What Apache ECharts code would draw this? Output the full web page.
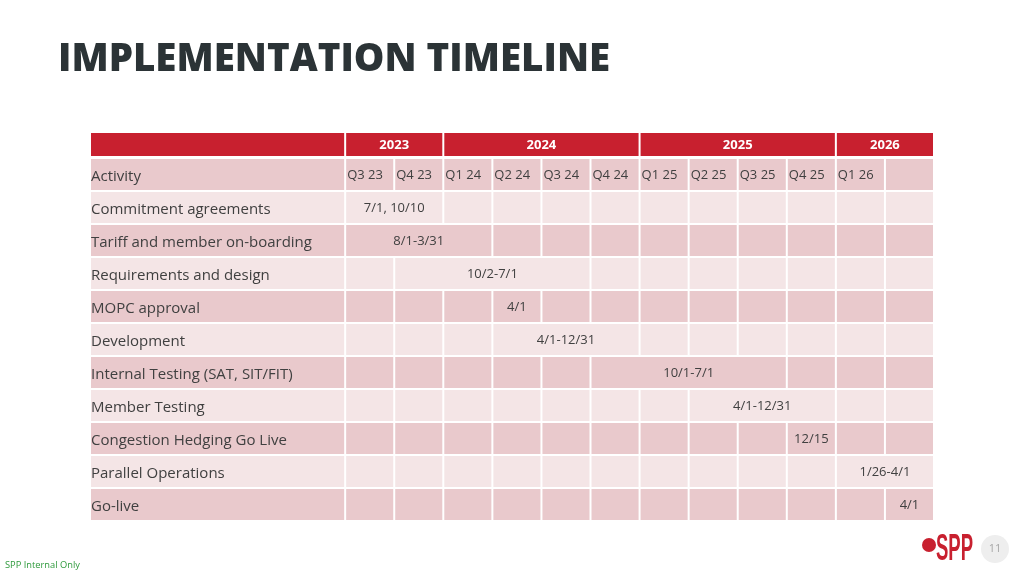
<!DOCTYPE html>
<html>
<head>
<meta charset="utf-8">
<script src="https://cdn.jsdelivr.net/npm/echarts@6/dist/echarts.min.js"></script>
<style>
    html, body { margin: 0; padding: 0; background: #ffffff; }
    #chart { width: 1024px; height: 576px; }
</style>
</head>
<body>
<div id="chart"></div>
<script>
// datos de la tabla
var quarters = ['Q3 23', 'Q4 23', 'Q1 24', 'Q2 24', 'Q3 24', 'Q4 24', 'Q1 25', 'Q2 25', 'Q3 25', 'Q4 25', 'Q1 26', ''];
var years = ['2023', '2024', '2025', '2026'];
var yearStart = [0, 2, 6, 10];
var yearEnd = [2, 6, 10, 12];

var activities = ['Commitment agreements', 'Tariff and member on-boarding', 'Requirements and design', 'MOPC approval',
    'Development', 'Internal Testing (SAT, SIT/FIT)', 'Member Testing', 'Congestion Hedging Go Live',
    'Parallel Operations', 'Go-live'];
// indice de trimestre donde empieza y termina (exclusivo) cada actividad
var spanStart = [0, 0, 1, 3, 3, 5, 7, 9, 10, 11];
var spanEnd = [2, 3, 5, 4, 6, 9, 10, 10, 12, 12];
var spanLabel = ['7/1, 10/10', '8/1-3/31', '10/2-7/1', '4/1', '4/1-12/31', '10/1-7/1', '4/1-12/31', '12/15', '1/26-4/1', '4/1'];

var LABEL_COL = 5.2; // ancho de la columna Activity en trimestres
var RED = '#c8202f';
var DARK = '#e9c9cc';
var LIGHT = '#f4e5e6';
var TEXT = '#404040';

var rows = ['Activity'].concat(activities);

// celdas del encabezado de años
var headData = [[-LABEL_COL, 0, 0]];
var headMeta = [{ text: '' }];
years.forEach(function (y, i) {
    headData.push([yearStart[i], yearEnd[i], 0]);
    headMeta.push({ text: y });
});

// celdas del cuerpo
var bodyData = [];
var bodyMeta = [];
rows.forEach(function (name, r) {
    var fill = r % 2 == 0 ? DARK : LIGHT;
    bodyData.push([-LABEL_COL, 0, r]);
    bodyMeta.push({ fill: fill, text: '' });
    if (r == 0) {
        quarters.forEach(function (q, i) {
            bodyData.push([i, i + 1, r]);
            bodyMeta.push({ fill: fill, text: q, align: 'left' });
        });
        return;
    }
    var a = r - 1;
    for (var i = 0; i < quarters.length; i++) {
        if (i == spanStart[a]) {
            bodyData.push([spanStart[a], spanEnd[a], r]);
            bodyMeta.push({ fill: fill, text: spanLabel[a], align: 'center' });
            i = spanEnd[a] - 1;
        } else {
            bodyData.push([i, i + 1, r]);
            bodyMeta.push({ fill: fill, text: '' });
        }
    }
});

function cellShape(params, api, meta, style) {
    var p0 = api.coord([api.value(0), api.value(2)]);
    var p1 = api.coord([api.value(1), api.value(2)]);
    var h = api.size([0, 1])[1];
    var x = p0[0] + 1, y = p0[1] - h / 2 + 1, w = p1[0] - p0[0] - 2;
    var children = [{
        type: 'rect',
        shape: { x: x, y: y, width: w, height: h - 2 },
        style: { fill: style.fill }
    }];
    if (meta.text) {
        children.push({
            type: 'text',
            style: {
                text: meta.text,
                x: meta.align == 'left' ? x + 1 : x + w / 2,
                y: p0[1] + 1,
                align: meta.align == 'left' ? 'left' : 'center',
                verticalAlign: 'middle',
                fill: style.color,
                font: style.font
            }
        });
    }
    return { type: 'group', children: children };
}

var chart = echarts.init(document.getElementById('chart'));

chart.setOption({
    animation: false,
    backgroundColor: '#ffffff',
    title: [{
        text: 'IMPLEMENTATION TIMELINE',
        left: 58,
        top: 41,
        padding: 0,
        textStyle: { fontFamily: 'Open Sans', fontWeight: 800, fontSize: 38.5, color: '#2b3336' }
    }, {
        text: 'SPP Internal Only',
        left: 5,
        top: 561,
        padding: 0,
        textStyle: { fontFamily: 'Open Sans', fontWeight: 'normal', fontSize: 9.3, color: '#2e9a3c' }
    }],
    grid: [
        { left: 90, right: 90, top: 132, height: 25 },
        { left: 90, right: 90, top: 158, height: 363 }
    ],
    xAxis: [
        { gridIndex: 0, type: 'value', min: -LABEL_COL, max: 12, show: false },
        { gridIndex: 1, type: 'value', min: -LABEL_COL, max: 12, show: false }
    ],
    yAxis: [
        { gridIndex: 0, type: 'category', data: [''], show: false },
        {
            gridIndex: 1, type: 'category', data: rows, inverse: true, z: 10,
            axisLine: { show: false }, axisTick: { show: false }, splitLine: { show: false },
            axisLabel: {
                inside: true, margin: 1, align: 'left',
                fontFamily: 'Open Sans', fontSize: 15, color: TEXT,
                verticalAlign: 'top', lineHeight: 4
            }
        }
    ],
    series: [{
        type: 'custom',
        xAxisIndex: 0,
        yAxisIndex: 0,
        data: headData,
        renderItem: function (params, api) {
            return cellShape(params, api, headMeta[params.dataIndex], {
                fill: RED, color: '#ffffff', font: 'bold 13px "Open Sans"'
            });
        }
    }, {
        type: 'custom',
        xAxisIndex: 1,
        yAxisIndex: 1,
        data: bodyData,
        renderItem: function (params, api) {
            var meta = bodyMeta[params.dataIndex];
            return cellShape(params, api, meta, {
                fill: meta.fill, color: TEXT, font: '13px "Open Sans"'
            });
        }
    }],
    graphic: [{
        type: 'circle',
        shape: { cx: 929, cy: 545, r: 7 },
        style: { fill: RED }
    }, {
        type: 'text',
        x: 936,
        y: 531,
        scaleX: 0.5,
        style: { text: 'SPP', fill: RED, font: 'bold 37px "Liberation Sans", sans-serif' }
    }, {
        type: 'circle',
        shape: { cx: 995, cy: 549, r: 14 },
        style: { fill: '#eeeeee' }
    }, {
        type: 'text',
        x: 995,
        y: 549,
        style: { text: '11', fill: '#a6a6a6', font: '11px "Open Sans"', align: 'center', verticalAlign: 'middle' }
    }]
});
</script>
</body>
</html>
